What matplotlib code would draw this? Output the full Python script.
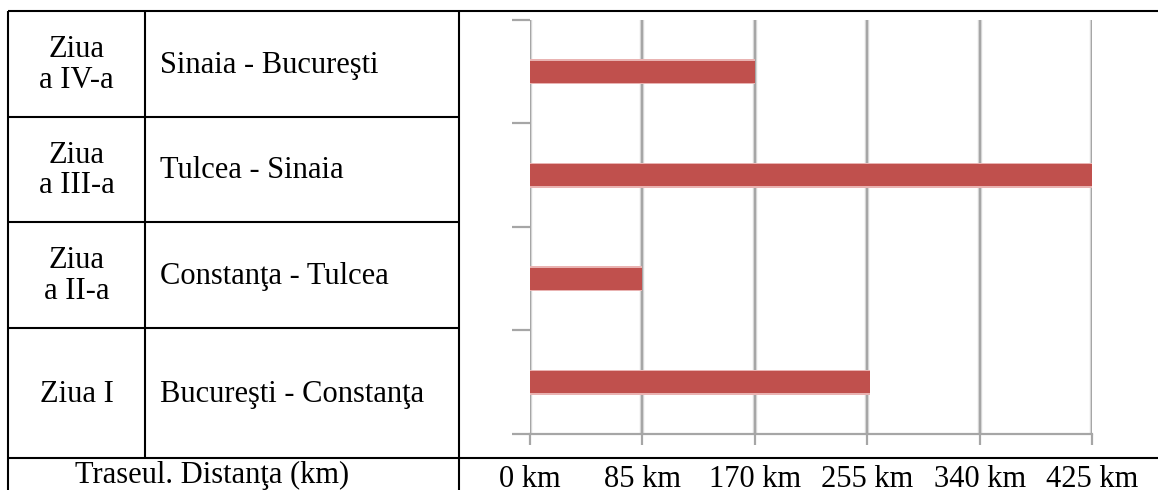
import matplotlib
matplotlib.use("Agg")
import matplotlib.pyplot as plt
from matplotlib.ticker import FuncFormatter, FixedLocator

# ---- data ----
days = ["Ziua I", "Ziua\na II-a", "Ziua\na III-a", "Ziua\na IV-a"]
routes = ["Bucureşti - Constanţa", "Constanţa - Tulcea", "Tulcea - Sinaia", "Sinaia - Bucureşti"]
distances_km = [257, 85, 425, 170]
x_ticks = [0, 85, 170, 255, 340, 425]
header = "Traseul. Distanţa (km)"

W, H = 1158, 490
DPI = 100
plt.rcParams['font.family'] = ['Liberation Serif', 'DejaVu Serif']
FS = 22

fig = plt.figure(figsize=(W / DPI, H / DPI), dpi=DPI)
fig.patch.set_facecolor("white")

# overlay axes in pixel coordinates for the table
ov = fig.add_axes([0, 0, 1, 1])
ov.set_xlim(0, W)
ov.set_ylim(H, 0)
ov.axis("off")

lw = 1.5
row_edges = [11, 117, 222, 328, 458]
x_left, x_mid, x_chart = 8, 145, 459
ov.plot([x_left, W], [11, 11], color="black", lw=lw, solid_capstyle="butt")
ov.plot([x_left, W], [458, 458], color="black", lw=lw, solid_capstyle="butt")
for y in row_edges[1:-1]:
    ov.plot([x_left, x_chart], [y, y], color="black", lw=lw, solid_capstyle="butt")
ov.plot([x_left, x_left], [11, H], color="black", lw=lw, solid_capstyle="butt")
ov.plot([x_mid, x_mid], [11, 458], color="black", lw=lw, solid_capstyle="butt")
ov.plot([x_chart, x_chart], [11, H], color="black", lw=lw, solid_capstyle="butt")

n = len(days)
for i in range(n):
    k = n - 1 - i
    y0, y1 = row_edges[i], row_edges[i + 1]
    yc = (y0 + y1) / 2 + 1
    ov.text((x_left + x_mid) / 2, yc, days[k], ha="center", va="center",
            fontsize=FS, linespacing=1.08)
    ov.text(160, yc, routes[k], ha="left", va="center", fontsize=FS)
ov.text(212, 483, header, ha="center", va="baseline", fontsize=FS)

# chart axes
left, right, top, bottom = 530, 1092, 20, 434
ax = fig.add_axes([left / W, 1 - bottom / H, (right - left) / W, (bottom - top) / H])
ax.set_facecolor("none")
ypos = list(range(n))
ax.set_xlim(0, 425)
ax.set_ylim(-0.5, n - 0.5)

grid_c = "#a6a6a6"
for t in x_ticks:
    ax.axvline(t, color="#dcdcdc", lw=3.2, zorder=0.5)
    ax.axvline(t, color=grid_c, lw=1.6, zorder=0.6)

ax.barh(ypos, distances_km, height=0.24, color="#e9b3b2", zorder=2)
ax.barh(ypos, distances_km, height=0.212, color="#c0504d", zorder=3)

for s in ["top", "right", "left"]:
    ax.spines[s].set_visible(False)
ax.spines["bottom"].set_color(grid_c)
ax.spines["bottom"].set_linewidth(1.6)

ax.xaxis.set_major_locator(FixedLocator(x_ticks))
ax.xaxis.set_major_formatter(FuncFormatter(lambda v, p: f"{v:.0f} km"))
ax.tick_params(axis="x", direction="out", length=8, width=1.6, color=grid_c,
               pad=14, labelsize=FS, labelcolor="black")
ax.yaxis.set_major_locator(FixedLocator([i - 0.5 for i in range(n + 1)]))
ax.yaxis.set_major_formatter(FuncFormatter(lambda v, p: ""))
ax.tick_params(axis="y", direction="out", length=13, width=1.6, color=grid_c)

fig.savefig("out.png", dpi=DPI, facecolor="white")
